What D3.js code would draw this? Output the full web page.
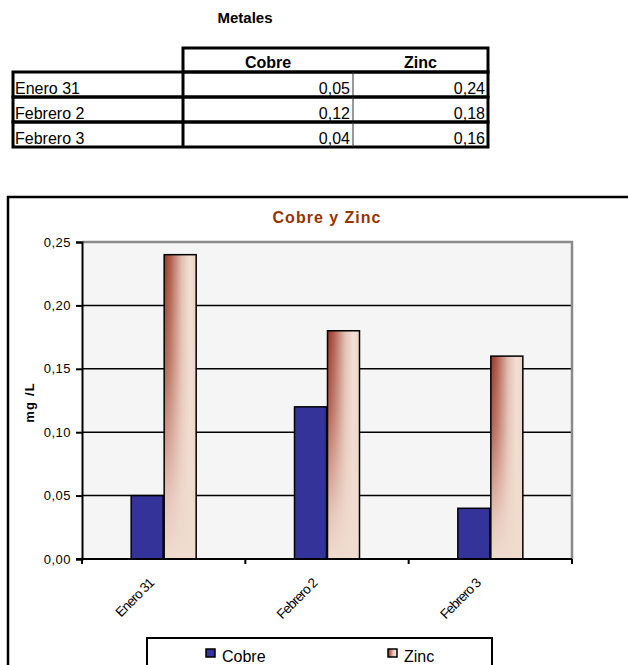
<!DOCTYPE html>
<html>
<head>
<meta charset="utf-8">
<script src="https://cdn.jsdelivr.net/npm/d3@7"></script>
<style>
  body { margin: 0; background: #fff; }
  svg { display: block; font-family: Arial, 'Liberation Sans', sans-serif; }
</style>
</head>
<body>
<div id="chart"></div>
<script>
const fechas = ['Enero 31', 'Febrero 2', 'Febrero 3'];
const cobre = [0.05, 0.12, 0.04];
const zinc = [0.24, 0.18, 0.16];
const series = ['Cobre', 'Zinc'];
const yTicks = [0, 0.05, 0.1, 0.15, 0.2, 0.25];

const WIDTH = 628;
const HEIGHT = 665;
const PLOT = { left: 82, right: 572, top: 242, bottom: 559 };
const COBRE_COLOR = '#333399';
const TITLE_COLOR = '#993300';

const locale = d3.formatLocale({ decimal: ',', thousands: '.', grouping: [3], currency: ['', ''] });
const fmt = locale.format('.2f');

const svg = d3.select('#chart').append('svg').attr('width', WIDTH).attr('height', HEIGHT);

defineGradients(svg.append('defs'));
drawTable();
drawChart();

function defineGradients(defs) {
  const h = defs.append('linearGradient').attr('id', 'zincH').attr('x1', 0).attr('x2', 1).attr('y1', 0).attr('y2', 0);
  [['0%', '#983424'], ['20%', '#b25e4e'], ['55%', '#e2c0b2'], ['80%', '#f2dfd5'], ['100%', '#ecd3c6']].forEach(([o, c]) =>
    h.append('stop').attr('offset', o).attr('stop-color', c));

  const v = defs.append('linearGradient').attr('id', 'zincV').attr('x1', 0).attr('x2', 0).attr('y1', 0).attr('y2', 1);
  [['0%', 0], ['35%', 0.25], ['80%', 0.85], ['100%', 1]].forEach(([o, a]) =>
    v.append('stop').attr('offset', o).attr('stop-color', '#f0dbcf').attr('stop-opacity', a));
}

function drawTable() {
  const g = svg.append('g');
  const rowTop = 72;
  const rowH = 25;
  const colX = [13, 183, 353, 488];

  g.append('text')
    .attr('x', 245).attr('y', 23)
    .attr('text-anchor', 'middle')
    .attr('font-size', 15).attr('font-weight', 'bold')
    .text('Metales');

  g.append('rect')
    .attr('x', colX[1]).attr('y', 48)
    .attr('width', colX[3] - colX[1]).attr('height', rowTop - 48)
    .attr('fill', 'none').attr('stroke', '#000').attr('stroke-width', 3);

  series.forEach((s, i) => {
    g.append('text')
      .attr('x', (colX[i + 1] + colX[i + 2]) / 2).attr('y', rowTop - 4)
      .attr('text-anchor', 'middle')
      .attr('font-size', 16).attr('font-weight', 'bold')
      .text(s);
  });

  fechas.forEach((f, i) => {
    const y = rowTop + i * rowH;
    g.append('rect')
      .attr('x', colX[0]).attr('y', y)
      .attr('width', colX[3] - colX[0]).attr('height', rowH)
      .attr('fill', 'none').attr('stroke', '#000').attr('stroke-width', 3);
    g.append('line')
      .attr('x1', colX[1]).attr('x2', colX[1]).attr('y1', y).attr('y2', y + rowH)
      .attr('stroke', '#000').attr('stroke-width', 3);
    g.append('line')
      .attr('x1', colX[2]).attr('x2', colX[2]).attr('y1', y).attr('y2', y + rowH)
      .attr('stroke', '#333').attr('stroke-width', 1);
    g.append('text')
      .attr('x', colX[0] + 2).attr('y', y + rowH - 3)
      .attr('font-size', 16)
      .text(f);
    [cobre[i], zinc[i]].forEach((val, j) => {
      g.append('text')
        .attr('x', colX[j + 2] - 3).attr('y', y + rowH - 3)
        .attr('text-anchor', 'end')
        .attr('font-size', 16)
        .text(fmt(val));
    });
  });
}

function drawChart() {
  const g = svg.append('g');

  g.append('rect')
    .attr('x', 8).attr('y', 197)
    .attr('width', 700).attr('height', 600)
    .attr('fill', '#fff').attr('stroke', '#000').attr('stroke-width', 2.5);

  g.append('text')
    .attr('x', (PLOT.left + PLOT.right) / 2).attr('y', 223)
    .attr('text-anchor', 'middle')
    .attr('font-size', 16).attr('font-weight', 'bold')
    .attr('letter-spacing', 1)
    .attr('fill', TITLE_COLOR)
    .text('Cobre y Zinc');

  const x0 = d3.scaleBand().domain(fechas).range([PLOT.left, PLOT.right]);
  const barW = 33;
  const x1 = d3.scaleBand().domain(series).range([-barW, barW]);
  const y = d3.scaleLinear().domain([0, 0.25]).range([PLOT.bottom, PLOT.top]);

  g.append('rect')
    .attr('x', PLOT.left).attr('y', PLOT.top)
    .attr('width', PLOT.right - PLOT.left).attr('height', PLOT.bottom - PLOT.top)
    .attr('fill', '#f5f5f5');

  g.selectAll('.grid')
    .data(yTicks.filter((t) => t > 0 && t < 0.25))
    .join('line')
    .attr('x1', PLOT.left).attr('x2', PLOT.right)
    .attr('y1', (d) => y(d)).attr('y2', (d) => y(d))
    .attr('stroke', '#000').attr('stroke-width', 1.5);

  // plot area border (top and right, gray)
  g.append('path')
    .attr('d', `M${PLOT.left},${PLOT.top}H${PLOT.right}V${PLOT.bottom}`)
    .attr('fill', 'none').attr('stroke', '#8a8a8a').attr('stroke-width', 2.5);

  const rows = fechas.map((f, i) => ({ fecha: f, values: [cobre[i], zinc[i]] }));
  const groups = g.selectAll('.grupo')
    .data(rows)
    .join('g')
    .attr('transform', (d) => `translate(${x0(d.fecha) + x0.bandwidth() / 2},0)`);

  groups.each(function (d) {
    const grp = d3.select(this);
    series.forEach((s, j) => {
      const val = d.values[j];
      const bx = x1(s) + 0.5;
      const bw = x1.bandwidth() - 1;
      if (s === 'Zinc') {
        grp.append('rect')
          .attr('x', bx).attr('y', y(val)).attr('width', bw).attr('height', y(0) - y(val))
          .attr('fill', 'url(#zincH)');
        grp.append('rect')
          .attr('x', bx).attr('y', y(val)).attr('width', bw).attr('height', y(0) - y(val))
          .attr('fill', 'url(#zincV)')
          .attr('stroke', '#000').attr('stroke-width', 1.5);
      } else {
        grp.append('rect')
          .attr('x', bx).attr('y', y(val)).attr('width', bw).attr('height', y(0) - y(val))
          .attr('fill', COBRE_COLOR)
          .attr('stroke', '#000').attr('stroke-width', 1.5);
      }
    });
  });

  const yAxis = g.append('g')
    .attr('transform', `translate(${PLOT.left},0)`)
    .call(d3.axisLeft(y).tickValues(yTicks).tickFormat(fmt).tickSize(6).tickPadding(5));
  yAxis.select('.domain').attr('stroke', '#000').attr('stroke-width', 2);
  yAxis.selectAll('.tick line').attr('stroke', '#000').attr('stroke-width', 2);
  yAxis.selectAll('.tick text')
    .attr('font-size', 13).attr('letter-spacing', 0.5)
    .attr('fill', '#000').attr('font-family', 'Arial, Liberation Sans, sans-serif');

  // x axis line with ticks at category boundaries
  g.append('line')
    .attr('x1', PLOT.left - 6).attr('x2', PLOT.right)
    .attr('y1', PLOT.bottom).attr('y2', PLOT.bottom)
    .attr('stroke', '#000').attr('stroke-width', 2);
  const bounds = [PLOT.left].concat(fechas.map((f) => x0(f) + x0.bandwidth()));
  g.selectAll('.xtick')
    .data(bounds)
    .join('line')
    .attr('x1', (d) => d).attr('x2', (d) => d)
    .attr('y1', PLOT.bottom).attr('y2', PLOT.bottom + 5)
    .attr('stroke', '#000').attr('stroke-width', 2);

  g.selectAll('.xlabel')
    .data(fechas)
    .join('text')
    .attr('transform', (d) => `translate(${x0(d) + x0.bandwidth() / 2 - 9},${PLOT.bottom + 25}) rotate(-45)`)
    .attr('text-anchor', 'end')
    .attr('font-size', 13.5)
    .attr('letter-spacing', -0.9)
    .text((d) => d);

  g.append('text')
    .attr('transform', `translate(34,${(PLOT.top + PLOT.bottom) / 2 + 2}) rotate(-90)`)
    .attr('text-anchor', 'middle')
    .attr('font-size', 13).attr('font-weight', 'bold')
    .attr('letter-spacing', 1.2)
    .text('mg /L');

  // legend
  const legend = g.append('g');
  legend.append('rect')
    .attr('x', 147).attr('y', 638)
    .attr('width', 345).attr('height', 60)
    .attr('fill', '#fff').attr('stroke', '#000').attr('stroke-width', 2);
  const legendX = d3.scalePoint().domain(series).range([206, 388]);
  series.forEach((s) => {
    legend.append('rect')
      .attr('x', legendX(s)).attr('y', 649)
      .attr('width', 9).attr('height', 8)
      .attr('fill', s === 'Cobre' ? COBRE_COLOR : 'url(#zincH)')
      .attr('stroke', '#000').attr('stroke-width', 1.5);
    legend.append('text')
      .attr('x', legendX(s) + 16).attr('y', 662)
      .attr('font-size', 16)
      .text(s);
  });
}
</script>
</body>
</html>
